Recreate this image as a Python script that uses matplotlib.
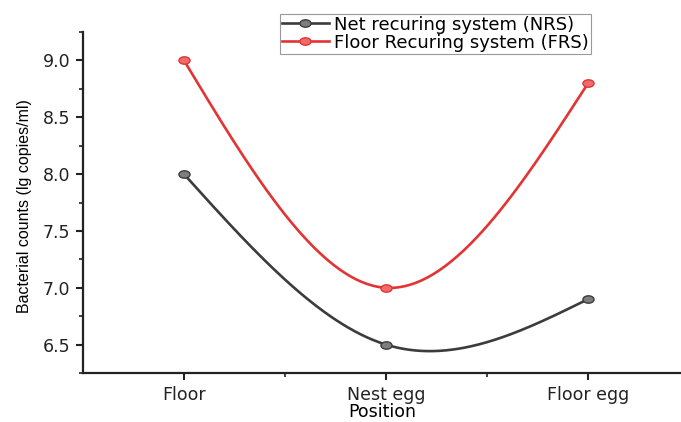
import numpy as np
import matplotlib
matplotlib.use("Agg")
from matplotlib import pyplot as plt
from matplotlib.path import Path
from matplotlib.transforms import Affine2D
from matplotlib.ticker import MultipleLocator, FixedLocator, FormatStrFormatter

positions = ["Floor", "Nest egg", "Floor egg"]
nrs = [8.0, 6.5, 6.9]
frs = [9.0, 7.0, 8.8]


def naturalSpline(x, y, num=200):
    # natural cubic spline through the points (Origin "Spline" connection)
    x = np.asarray(x, float)
    y = np.asarray(y, float)
    n = len(x)
    h = np.diff(x)
    A = np.zeros((n, n))
    rhs = np.zeros(n)
    A[0, 0] = 1
    A[-1, -1] = 1
    for i in range(1, n - 1):
        A[i, i - 1] = h[i - 1]
        A[i, i] = 2 * (h[i - 1] + h[i])
        A[i, i + 1] = h[i]
        rhs[i] = 6 * ((y[i + 1] - y[i]) / h[i] - (y[i] - y[i - 1]) / h[i - 1])
    M = np.linalg.solve(A, rhs)
    xs = np.linspace(x[0], x[-1], num)
    ys = np.empty_like(xs)
    for k, xv in enumerate(xs):
        i = min(np.searchsorted(x, xv, side="right") - 1, n - 2)
        a = x[i + 1] - xv
        b = xv - x[i]
        ys[k] = (M[i] * a ** 3 / 6 + M[i + 1] * b ** 3 / 6) / h[i] \
            + (y[i] / h[i] - M[i] * h[i] / 6) * a \
            + (y[i + 1] / h[i] - M[i + 1] * h[i] / 6) * b
    return xs, ys


plt.rcParams['font.family'] = ['DejaVu Sans']

# the reference looks stretched sideways, so the dots are ellipses
ellipse = Path.unit_circle().transformed(Affine2D().scale(1.5, 1.0))

fig = plt.figure(figsize=(6.81, 4.22), dpi=100)
ax = fig.add_axes([0.1219, 0.116, 0.8781, 0.808])

xpos = np.arange(1, len(positions) + 1)

series = [
    (nrs, "Net recuring system (NRS)", "#3c3c3c", "#7e7e7e"),
    (frs, "Floor Recuring system (FRS)", "#e23434", "#f06a6a"),
]
for vals, label, col, face in series:
    xs, ys = naturalSpline(xpos, vals)
    ax.plot(xs, ys, color=col, lw=1.9, zorder=2)
    ax.plot(xpos, vals, ls='none', marker=ellipse, color=face, mec=col,
            mew=1.0, ms=8, zorder=3)
    ax.plot([], [], '-', marker=ellipse, color=col, mfc=face, mec=col,
            mew=1.0, ms=8, lw=1.9, label=label)

ax.set_xlim(0.5, 3.46)
ax.set_ylim(6.25, 9.25)
ax.set_xticks(xpos)
ax.set_xticklabels(positions)
ax.xaxis.set_minor_locator(FixedLocator([1.5, 2.5]))
ax.yaxis.set_major_locator(MultipleLocator(0.5))
ax.yaxis.set_minor_locator(MultipleLocator(0.25))
ax.yaxis.set_major_formatter(FormatStrFormatter('%.1f'))

for s in ['top', 'right']:
    ax.spines[s].set_visible(False)
for s in ['left', 'bottom']:
    ax.spines[s].set_linewidth(1.6)
    ax.spines[s].set_color('#222222')

ax.tick_params(which='major', direction='out', length=5, width=1.5,
               labelsize=12.5, colors='#222222', pad=4)
ax.tick_params(which='minor', direction='out', length=3, width=1.2,
               colors='#222222')

ax.set_xlabel("Position", fontsize=12.5)
ax.xaxis.set_label_coords(0.5, -0.087)
ax.set_ylabel("Bacterial counts (lg copies/ml)", fontsize=11.5,
              family='Liberation Sans')
ax.yaxis.set_label_coords(-0.085, 0.49)

leg = ax.legend(loc='upper left', bbox_to_anchor=(0.411, 0.967),
                bbox_transform=fig.transFigure, fontsize=13,
                fancybox=False, framealpha=1, edgecolor='#999999',
                borderpad=0.1, labelspacing=0.0, handlelength=2.6,
                handletextpad=0.3, borderaxespad=0)
leg.get_frame().set_linewidth(0.8)

fig.savefig("out.png", dpi=100)
